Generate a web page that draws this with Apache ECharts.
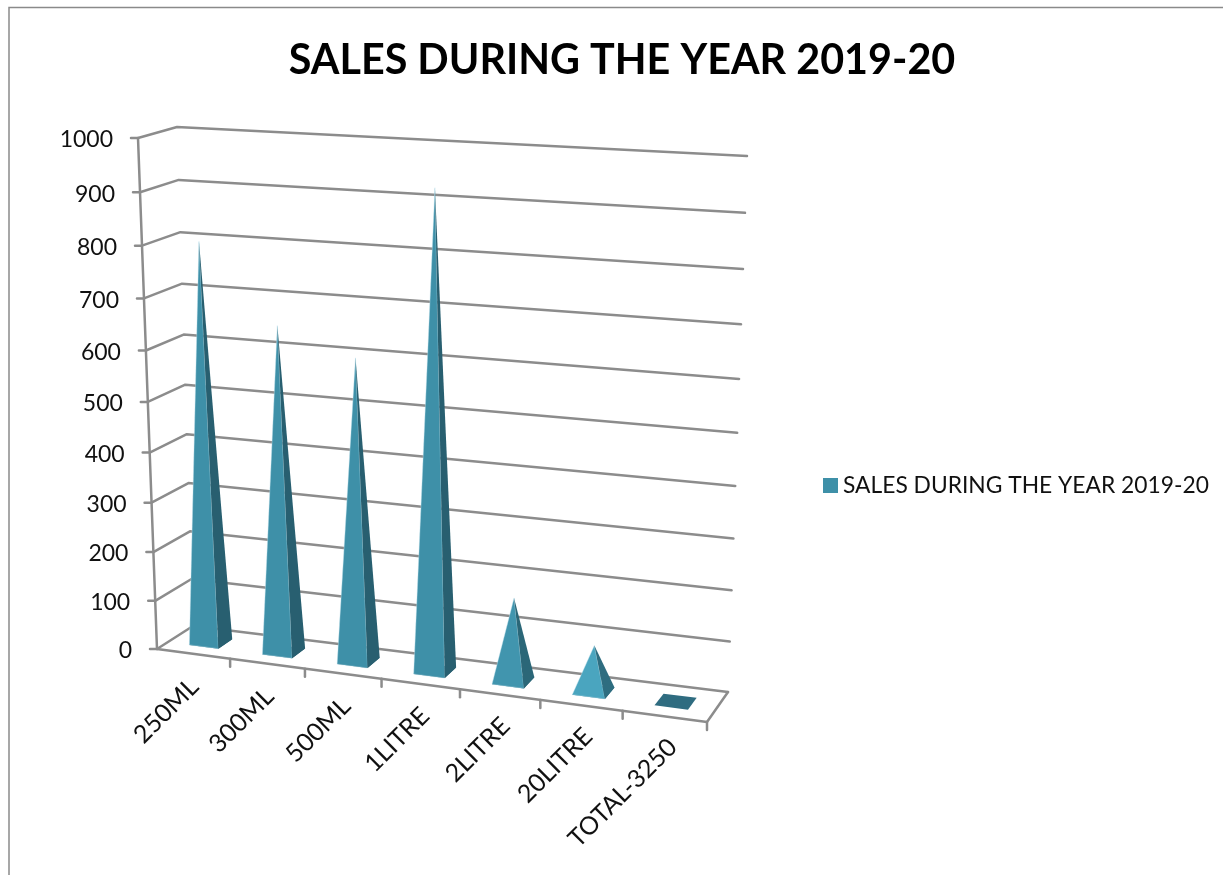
<!DOCTYPE html>
<html>
<head>
<meta charset="utf-8">
<style>html,body{margin:0;padding:0;background:#fff}#c{width:1223px;height:875px}</style>
<script src="https://cdn.jsdelivr.net/npm/echarts@6/dist/echarts.min.js"></script>
</head>
<body>
<div id="c"></div>
<script>
const categories = ['250ML','300ML','500ML','1LITRE','2LITRE','20LITRE','TOTAL-3250'];
const sales = [800,650,600,925,165,90,0];
const yTicks = [0,100,200,300,400,500,600,700,800,900,1000];
const seriesName = 'SALES DURING THE YEAR 2019-20';
const frontColors = ['#3e90a8','#3e90a8','#3e90a8','#3e90a8','#4195ae','#4aa5bf','#2f6c80'];
const sideColors = ['#285f70','#285f70','#285f70','#285f70','#2b6778','#2e6d80','#2f6c80'];
const lineColor = '#8c8c8c';
const font = 'Lato, sans-serif';

// Perspective box of the 3D chart: x (0..1 along categories), y (0..1 value), z (0 front .. 1 back)
const floorBox = {fl:[157,649], fr:[707,722], br:[728,692], bl:[193,626]};
const topBox = {fl:[138,138], fr:[726,165], br:[747,156], bl:[177,127]};
const warpX = 0.087, warpY = 0.068;
function lerp(a,b,t){return [a[0]+(b[0]-a[0])*t, a[1]+(b[1]-a[1])*t];}
function project(x,y,z){
  const u = x/(1+warpX*(1-x));
  const s = y/(1+warpY*(1-y));
  const pick = b => lerp(lerp(b.fl,b.fr,u), lerp(b.bl,b.br,u), z);
  return lerp(pick(floorBox), pick(topBox), s);
}
function norm(api,params,i,v){
  const cs = params.coordSys, p = api.coord([i,v]);
  return [(p[0]-cs.x)/cs.width, (cs.y+cs.height-p[1])/cs.height];
}
const lineStyle = {stroke:lineColor, lineWidth:2.5, fill:null, lineCap:'round', lineJoin:'round'};
function poly(points,style){return {type:'polygon',shape:{points},style};}
function pline(points){return {type:'polyline',shape:{points},style:lineStyle};}

const renderGrid = (params,api)=>{
  const v = api.value(1), n = norm(api,params,0,v), y = n[1];
  const a = project(0,y,0), b = project(0,y,1), c = project(1,y,1);
  const children = [
    pline([[a[0]-7,a[1]],a,b,c]),
    {type:'text',x:a[0]-25,y:a[1]+2,style:{text:String(yTicks[params.dataIndex]),align:'right',verticalAlign:'middle',fontFamily:font,fontSize:23,fill:'#111'}}
  ];
  return {type:'group',children};
};
const renderFrame = (params,api)=>{
  const p = (x,y,z)=>project(x,y,z);
  return {type:'group',children:[
    pline([p(0,0,0),p(0,1,0)]),
    pline([p(0,0,0),p(1,0,0),p(1,0,1)])
  ]};
};
const renderCat = (params,api)=>{
  const i = params.dataIndex, cs = params.coordSys;
  const band = api.size([1,0])[0]/cs.width;
  const c = norm(api,params,i,0)[0];
  const e = project(c+band/2,0,0);
  const m = project(c,0,0);
  return {type:'group',children:[
    pline([e,[e[0],e[1]+8]]),
    {type:'text',x:m[0]+1+i*1.2,y:m[1]+29-i*0.4,rotation:Math.PI/4,style:{text:categories[i],align:'right',verticalAlign:'middle',fontFamily:font,fontSize:25,fill:'#111'}}
  ]};
};
const renderBar = (params,api)=>{
  const i = params.dataIndex, cs = params.coordSys;
  const band = api.size([1,0])[0]/cs.width;
  const n = norm(api,params,i,api.value(1));
  const half = band*0.2, z0 = 0.3, z1 = 0.7;
  const fl = project(n[0]-half,0,z0), fr = project(n[0]+half,0,z0),
        br = project(n[0]+half,0,z1), bl = project(n[0]-half,0,z1),
        apex = project(n[0],n[1],0.5);
  const children = [poly([fl,fr,br,bl],{fill:sideColors[i]})];
  if (sales[i] > 0) {
    children.push(poly([fl,fr,apex],{fill:frontColors[i],stroke:'rgba(190,225,238,0.4)',lineWidth:1}));
    children.push(poly([fr,br,apex],{fill:sideColors[i]}));
  }
  return {type:'group',children};
};

const chart = echarts.init(document.getElementById('c'),null,{renderer:'canvas'});
chart.setOption({
  animation:false,
  backgroundColor:'#fff',
  title:{text:seriesName,left:622,textAlign:'center',top:35,textStyle:{fontFamily:font,fontWeight:'bold',fontSize:41.3,color:'#000'}},
  legend:{data:[{name:seriesName,icon:'rect'}],left:818,top:469,itemWidth:15,itemHeight:15,itemGap:7,selectedMode:false,textStyle:{fontFamily:font,fontSize:22.8,color:'#111'}},
  graphic:[{type:'rect',shape:{x:9,y:7.5,width:1400,height:1000},style:{fill:null,stroke:'#8a8a8a',lineWidth:1.5},silent:true,z:-1}],
  grid:{left:157,top:138,width:550,height:511},
  xAxis:{type:'category',data:categories,show:false},
  yAxis:{type:'value',min:0,max:1000,interval:100,show:false},
  series:[
    {type:'custom',silent:true,clip:false,renderItem:renderGrid,data:yTicks.map(v=>[0,v]),z:1,legendHoverLink:false},
    {type:'custom',silent:true,clip:false,renderItem:renderFrame,data:[[0,0]],z:2},
    {type:'custom',silent:true,clip:false,renderItem:renderCat,data:categories.map((c,i)=>[i,0]),z:2},
    {type:'custom',name:seriesName,silent:true,clip:false,renderItem:renderBar,data:sales.map((v,i)=>[i,v]),itemStyle:{color:'#3e90a8'},z:3}
  ]
});
chart.setOption({title:{left:617}});
</script>
</body>
</html>
